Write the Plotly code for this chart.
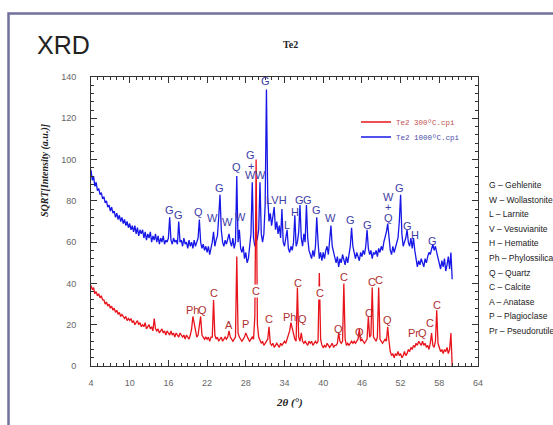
import numpy as np
import plotly.graph_objects as go

# 2-theta scan grid (degrees)
two_theta = np.round(np.arange(4.0, 60.0001, 0.2), 1)

# SQRT intensity, Te2 300 ºC (one row = 2 degrees)
te2_300 = [
    39, 37, 38, 35, 36, 34, 35, 33, 34, 32,
    32, 30, 31, 29, 30, 28, 29, 27, 28, 26,
    27, 25, 26, 24, 25, 24, 23, 24, 22, 23,
    22, 23, 21, 22, 20, 21, 22, 20, 21, 19,
    20, 19, 21, 18, 19, 20, 18, 19, 17, 23,
    18, 17, 18, 16, 17, 18, 16, 17, 15, 17,
    16, 15, 17, 15, 16, 14, 16, 15, 14, 16,
    15, 14, 15, 13, 15, 14, 13, 15, 18, 24,
    20, 16, 14, 15, 19, 24, 15, 14, 13, 14,
    13, 14, 12, 14, 14, 32, 15, 13, 14, 12,
    13, 14, 12, 13, 14, 13, 14, 17, 14, 13,
    12, 13, 14, 53, 16, 14, 13, 12, 13, 14,
    16, 14, 13, 12, 13, 14, 13, 24, 100, 20,
    14, 12, 11, 12, 10, 11, 12, 13, 19, 11,
    10, 11, 9, 10, 11, 10, 9, 11, 10, 11,
    12, 11, 13, 14, 17, 21, 18, 15, 13, 12,
    38, 14, 12, 16, 12, 11, 12, 11, 10, 12,
    11, 12, 10, 11, 12, 11, 12, 45, 13, 10,
    9, 10, 9, 11, 10, 9, 10, 11, 9, 10,
    10, 11, 16, 12, 11, 12, 40, 13, 10, 11,
    10, 11, 12, 11, 12, 11, 12, 13, 18, 12,
    13, 12, 11, 12, 13, 24, 14, 15, 38, 14,
    13, 12, 14, 38, 13, 12, 11, 12, 13, 12,
    19, 12, 7, 5, 6, 4, 6, 5, 7, 5,
    6, 4, 5, 7, 5, 6, 8, 7, 9, 8,
    10, 9, 11, 10, 12, 11, 10, 12, 10, 11,
    9, 10, 8, 11, 16, 10, 9, 12, 27, 11,
    9, 7, 8, 6, 8, 7, 9, 6, 8, 16,
    0,
]

# SQRT intensity, Te2 1000 ºC
te2_1000 = [
    95, 90, 92, 87, 89, 85, 86, 83, 84, 81,
    82, 79, 80, 77, 78, 75, 77, 74, 75, 72,
    74, 71, 73, 70, 72, 69, 71, 68, 70, 67,
    69, 66, 68, 65, 68, 64, 67, 63, 66, 64,
    66, 62, 65, 61, 64, 62, 65, 60, 63, 61,
    64, 60, 63, 59, 62, 60, 63, 59, 61, 60,
    62, 72, 61, 59, 62, 60, 61, 59, 70, 60,
    61, 58, 62, 59, 60, 57, 61, 58, 60, 57,
    61, 58, 60, 62, 71, 60, 57, 59, 56, 58,
    55, 58, 54, 57, 60, 65, 58, 61, 63, 72,
    83, 66, 60, 58, 61, 59, 62, 64, 60, 58,
    62, 57, 60, 92, 60, 66, 57, 55, 58, 52,
    55, 50, 52, 58, 64, 89, 62, 58, 60, 62,
    66, 89, 64, 60, 64, 78, 134, 82, 70, 74,
    68, 72, 77, 66, 70, 64, 68, 62, 76, 60,
    58, 62, 66, 57, 55, 58, 56, 60, 73, 58,
    60, 65, 78, 62, 58, 64, 60, 78, 62, 56,
    54, 52, 56, 53, 58, 72, 60, 52, 55, 51,
    55, 52, 56, 58, 54, 60, 68, 58, 55, 52,
    50, 53, 48, 52, 50, 54, 51, 49, 53, 50,
    54, 58, 67, 58, 55, 52, 55, 53, 51, 55,
    53, 56, 54, 58, 66, 57, 54, 56, 52, 55,
    54, 56, 53, 57, 55, 58, 56, 60, 62, 65,
    69, 62, 56, 54, 58, 55, 57, 59, 62, 70,
    83, 64, 58, 60, 62, 66, 60, 58, 62, 57,
    62, 56, 52, 48, 51, 49, 52, 50, 48, 52,
    50, 53, 55, 54, 57, 59, 56, 58, 55, 52,
    50, 47, 51, 48, 52, 46, 49, 53, 47, 55,
    42,
]

# Peak labels (phase letters)
blue_lab_text = ["G", "G", "Q", "W", "G", "W", "Q", "W", "G", "+", "W", "W", "G",
                 "LVH", "L", "H", "G", "G", "G", "W", "G", "G", "W", "+", "Q",
                 "G", "G", "H", "G"]
blue_lab_x = [16.1, 17.5, 20.7, 22.9, 23.9, 25.2, 26.6, 27.1, 28.75, 28.75, 28.75, 30.35, 31.1,
              32.75, 34.4, 35.6, 36.4, 37.5, 39.0, 41.2, 44.3, 46.9, 50.2, 50.0, 50.1,
              51.9, 53.1, 54.2, 57.0]
blue_lab_y = [75.6, 73, 74.6, 71.7, 86, 70, 96.5, 72, 102, 97, 92.5, 92.5, 138,
              80.4, 68.3, 74.8, 80.4, 80.4, 75.6, 71.5, 70.7, 68.3, 82, 77, 71.5,
              86, 67.8, 63.5, 60.7]

red_lab_text = ["Ph", "Q", "C", "A", "P", "C", "C", "Ph", "C", "Q", "C", "Q", "C", "Q",
                "C", "C", "C", "Q", "Pr", "Q", "C", "C"]
red_lab_x = [19.8, 21.3, 23.1, 25.4, 28.0, 29.55, 31.55, 34.85, 36.15, 36.8, 39.5, 42.35, 43.25,
             45.7, 47.1, 47.6, 48.7, 50.0, 54.0, 55.4, 56.55, 57.6]
red_lab_y = [27.1, 27.1, 35.5, 19.9, 20.3, 36.3, 22.6, 23.9, 40.1, 22.8, 35.5, 17.8, 43.3,
             16.3, 25.5, 40.8, 41.7, 22.3, 15.8, 15.8, 20.7, 29.6]
red_lab_boxed = [False, False, False, False, False, True, False, False, False, False, True,
                 False, False, False, False, False, False, False, False, False, False, False]

phase_key = ["G – Gehlenite", "W – Wollastonite", "L – Larnite", "V – Vesuvianite",
             "H – Hematite", "Ph – Phylossilicate", "Q – Quartz", "C – Calcite",
             "A – Anatase", "P – Plagioclase", "Pr – Pseudorutile"]

# ---- layout geometry (pixels of the 553x425 page) ----
W, H = 553, 425
L, R, T, B = 91, 478, 77, 366


def px_x(p):
    return (p - L) / (R - L)


def px_y(p):
    return (B - p) / (B - T)


BLUE = "#1717e8"
RED = "#e8141c"
BLUE_TXT = "#3c3ca6"
RED_TXT = "#b03030"

fig = go.Figure()
fig.add_trace(go.Scatter(
    x=two_theta, y=te2_1000, mode="lines",
    line=dict(color=BLUE, width=1.3),
    name="<span style='color:#4a4aa8'>Te2 1000ºC.cpi</span>", legend="legend2",
))
fig.add_trace(go.Scatter(
    x=two_theta, y=te2_300, mode="lines",
    line=dict(color=RED, width=1.3),
    name="<span style='color:#c05050'>Te2 300ºC.cpi</span>", legend="legend",
))

annotations = []
lab_font = "Liberation Sans, Arial, sans-serif"
for t, x, y in zip(blue_lab_text, blue_lab_x, blue_lab_y):
    annotations.append(dict(x=x, y=y, xref="x", yref="y", text=t, showarrow=False,
                            font=dict(family=lab_font, size=11, color=BLUE_TXT)))
for t, x, y, bx in zip(red_lab_text, red_lab_x, red_lab_y, red_lab_boxed):
    annotations.append(dict(x=x, y=y, xref="x", yref="y", text=t, showarrow=False,
                            bgcolor="white" if bx else None, borderpad=0,
                            font=dict(family=lab_font, size=11, color=RED_TXT)))

for i, s in enumerate(phase_key):
    annotations.append(dict(x=px_x(487), y=px_y(185 + 14.6 * i), xref="paper", yref="paper",
                            xanchor="left", yanchor="middle", text=s, showarrow=False,
                            font=dict(family=lab_font, size=8.5, color="#222222")))

annotations += [
    dict(x=px_x(35), y=px_y(45), xref="paper", yref="paper", xanchor="left", yanchor="middle",
         text="XRD", showarrow=False, font=dict(family=lab_font, size=25, color="#222222")),
    dict(x=px_x(290), y=px_y(44), xref="paper", yref="paper", xanchor="center", yanchor="middle",
         text="<b>Te2</b>", showarrow=False,
         font=dict(family="Liberation Serif, Times New Roman, serif", size=10, color="#222222")),
    dict(x=px_x(45), y=px_y(170), xref="paper", yref="paper", xanchor="center", yanchor="middle",
         text="<b><i>SQRT[Intensity (a.u.)]</i></b>", textangle=-90, showarrow=False,
         font=dict(family="Liberation Serif, Times New Roman, serif", size=10, color="#222222")),
    dict(x=px_x(289), y=px_y(402), xref="paper", yref="paper", xanchor="center", yanchor="middle",
         text="<b><i>2θ (°)</i></b>", showarrow=False,
         font=dict(family="Liberation Serif, Times New Roman, serif", size=11, color="#222222")),
]

axis_common = dict(
    showline=True, linecolor="#333333", linewidth=1, mirror="ticks",
    ticks="inside", ticklen=6, tickcolor="#333333", tickwidth=1,
    showgrid=False, zeroline=False,
    tickfont=dict(family=lab_font, size=9, color="#666666"),
)

legend_common = dict(xanchor="left", yanchor="middle", bgcolor="rgba(0,0,0,0)", borderwidth=0,
                     font=dict(family="Liberation Mono, Courier New, monospace", size=7.5),
                     itemwidth=30)

fig.update_layout(
    width=W, height=H,
    margin=dict(l=L, r=W - R, t=T, b=H - B),
    paper_bgcolor="white", plot_bgcolor="white",
    xaxis=dict(range=[4, 64], tick0=4, dtick=6, ticklabelstandoff=8,
               minor=dict(dtick=1, ticklen=3, ticks="inside", tickcolor="#333333", showgrid=False),
               **axis_common),
    yaxis=dict(range=[0, 140], tick0=0, dtick=20, ticklabelstandoff=12,
               minor=dict(dtick=4, ticklen=3, ticks="inside", tickcolor="#333333", showgrid=False),
               **axis_common),
    showlegend=True,
    legend=dict(x=px_x(356), y=px_y(122), **legend_common),
    legend2=dict(x=px_x(356), y=px_y(137), **legend_common),
    annotations=annotations,
    shapes=[dict(type="rect", xref="paper", yref="paper",
                 x0=px_x(8.5), x1=px_x(620), y0=px_y(13.5), y1=px_y(500),
                 line=dict(color="#70709c", width=2.5), layer="below")],
)

fig.write_html("out.html", config={"displayModeBar": False},
               post_script="document.body.style.margin='0';document.body.style.overflow='hidden';")
